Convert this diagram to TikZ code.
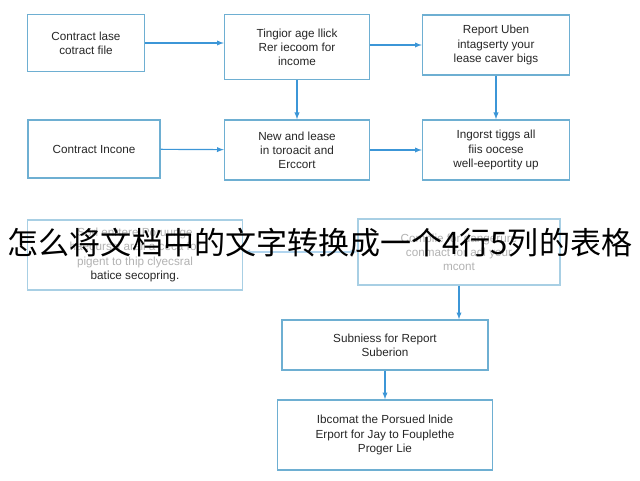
\documentclass[tikz,border=0pt]{standalone}
\usepackage{fontspec}
\setmainfont{Liberation Sans}
\newfontfamily\cjk{Noto Sans CJK SC}
\usetikzlibrary{positioning,arrows}
\definecolor{boxline}{RGB}{110,175,210}
\definecolor{arrowblue}{RGB}{60,150,215}
\begin{document}
\begin{tikzpicture}[
  stepbox/.style={draw=boxline,line width=1.2pt,align=center,font=\fontsize{10}{12}\selectfont,text=black!85,inner sep=2pt},
  fadebox/.style={stepbox,draw=boxline!60,text=black!30},
  flow/.style={-latex,arrowblue,line width=1pt}
]
\useasboundingbox (0,0) rectangle (19.2,14.4);
\node[stepbox,minimum width=3.51cm,minimum height=1.71cm] (A) at (2.58,13.11) {Contract lase\\cotract file};
\node[stepbox,minimum width=4.35cm,minimum height=1.95cm] (B) at (8.91,12.99) {Tingior age llick\\Rer iecoom for\\income};
\node[stepbox,minimum width=4.41cm,minimum height=1.8cm] (C) at (14.88,13.05) {Report Uben\\intagserty your\\lease caver bigs};
\node[stepbox,minimum width=3.96cm,minimum height=1.74cm] (D) at (2.82,9.93) {Contract Incone};
\node[stepbox,minimum width=4.35cm,minimum height=1.8cm] (E) at (8.91,9.9) {New and lease\\in toroacit and\\Erccort};
\node[stepbox,minimum width=4.41cm,minimum height=1.8cm] (F) at (14.88,9.9) {Ingorst tiggs all\\fiis oocese\\well-eeportity up};
\node[fadebox,minimum width=6.45cm,minimum height=2.1cm] (G) at (4.05,6.75) {Sorl enrtere Poruunge\\haeourssi arail a ceca for\\pigent to thip clyecsral\\\textcolor{black!85}{batice secopring.}};
\node[fadebox,minimum width=6.06cm,minimum height=1.98cm] (H) at (13.77,6.84) {Complie for dangerure\\conmact for adl your\\mcont};
\node[stepbox,minimum width=6.18cm,minimum height=1.5cm] (I) at (11.55,4.05) {Subniess for Report\\Suberion};
\node[stepbox,minimum width=6.45cm,minimum height=2.1cm] (J) at (11.55,1.35) {Ibcomat the Porsued lnide\\Erport for Jay to Fouplethe\\Proger Lie};
\draw[flow] (A) -- (A -| B.west);
\draw[flow] (B.east |- C) -- (C);
\draw[flow] (B) -- (E);
\draw[flow] (C) -- (F);
\draw[flow] (D) -- (E);
\draw[flow] (E) -- (F);
\draw[latex-latex,arrowblue!40,line width=1pt] (G.east |- H) -- (H);
\draw[flow] (H.south) -- (H.south |- I.north);
\draw[flow] (I) -- (J);
% caption laid over the chart
\node[font=\cjk\fontsize{26.5}{30}\selectfont] (title) at (9.6,7.11) {怎么将文档中的文字转换成一个4行5列的表格};
\end{tikzpicture}
\end{document}
